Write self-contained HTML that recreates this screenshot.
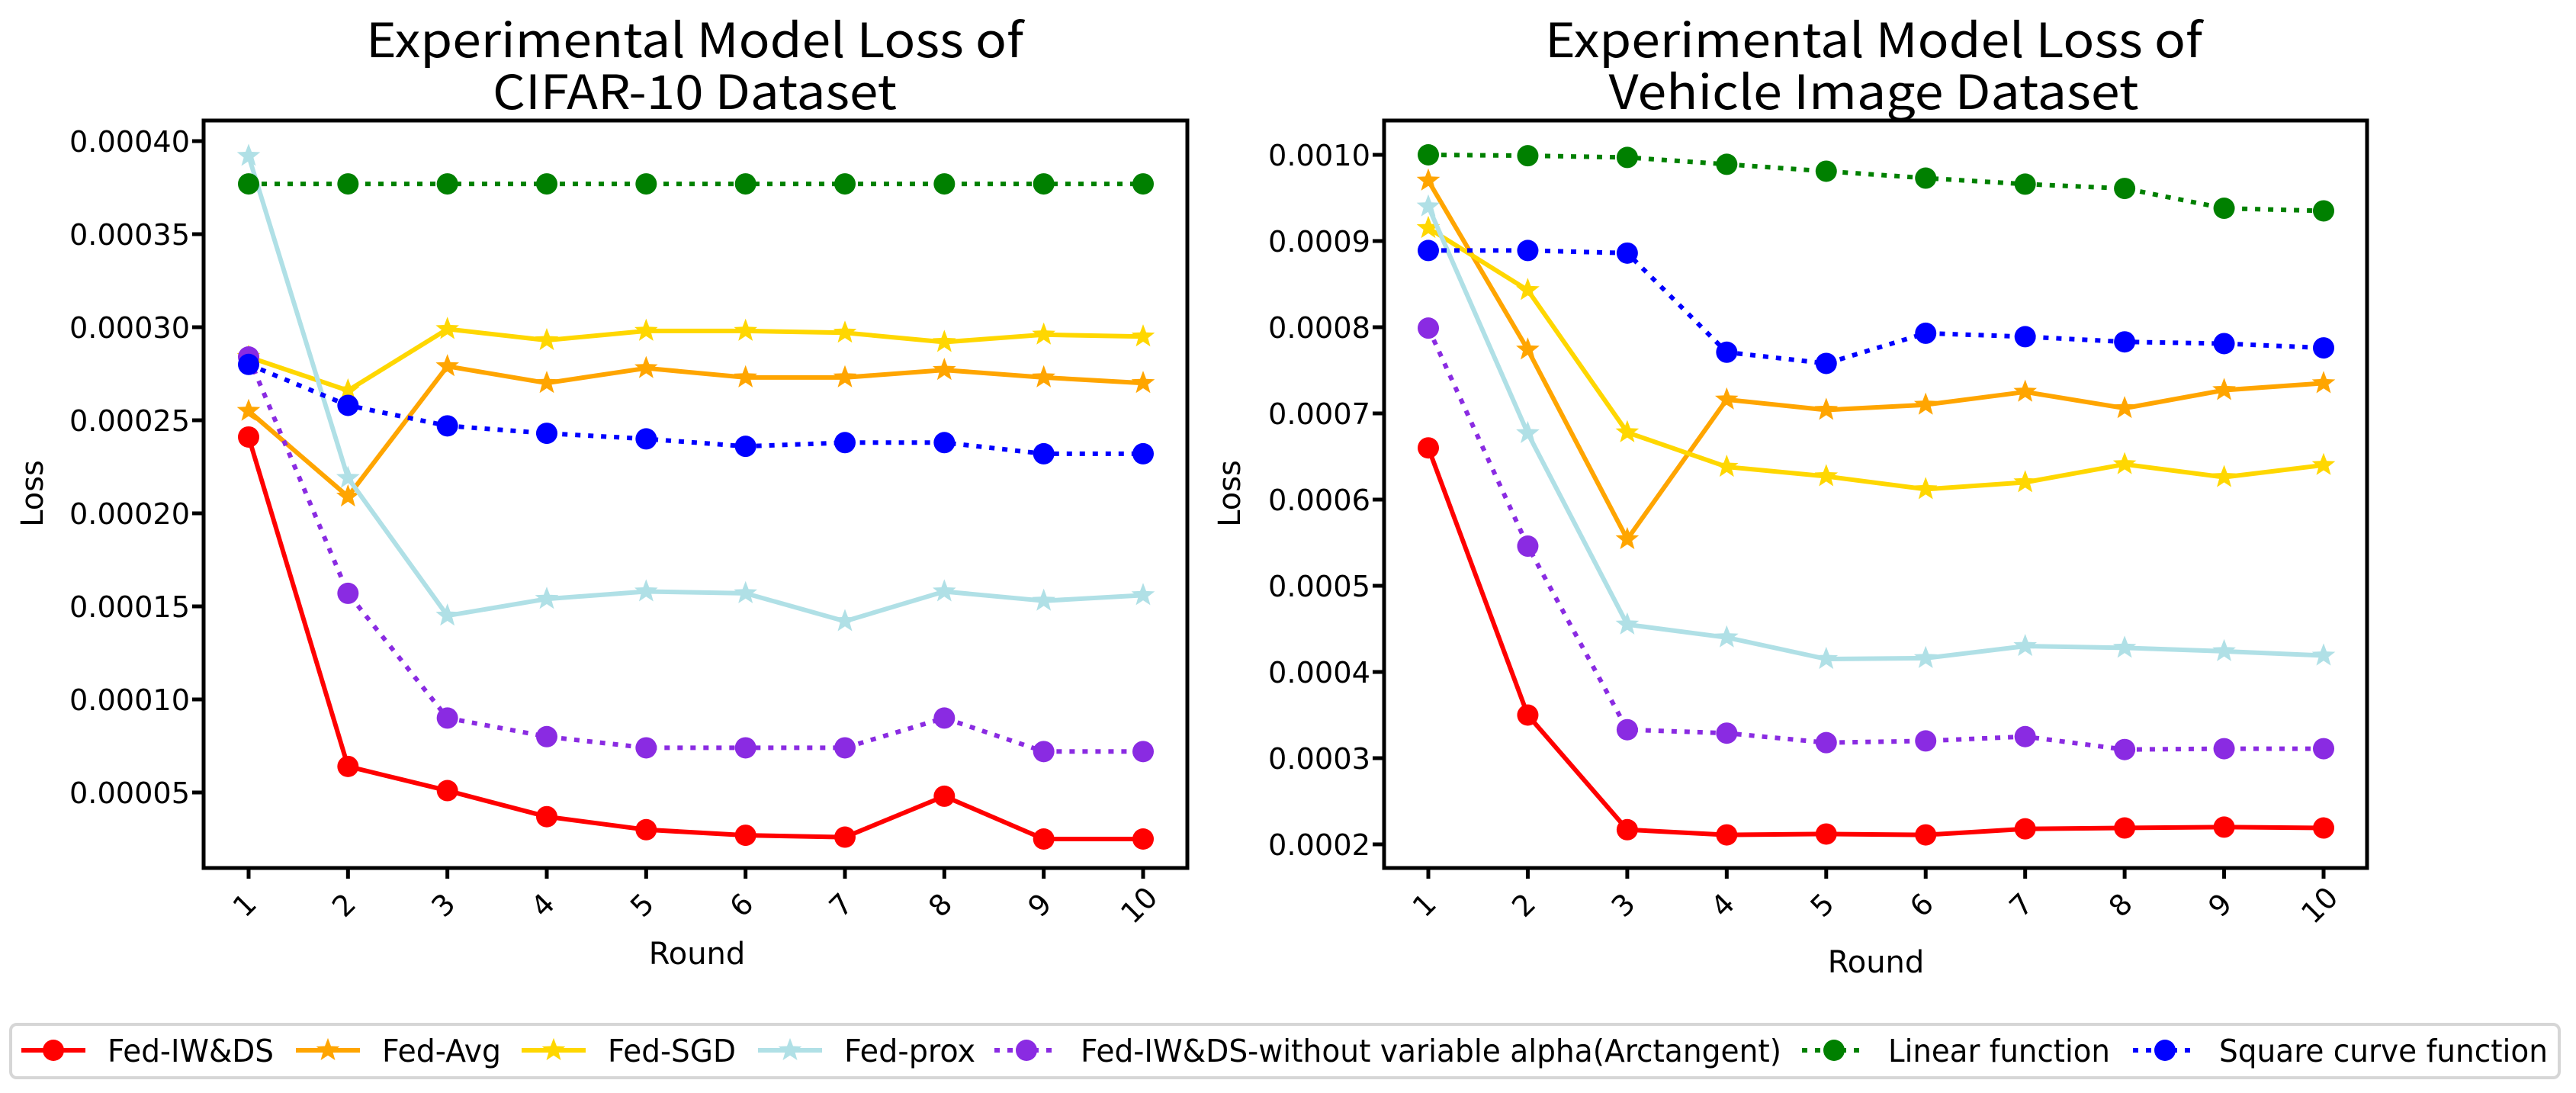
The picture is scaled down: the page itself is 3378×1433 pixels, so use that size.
<!DOCTYPE html>
<html><head><meta charset="utf-8"><style>
html,body{margin:0;padding:0;background:#fff;}
svg{display:block;}
text{font-family:"DejaVu Sans","Liberation Sans",sans-serif;}
.title{font-family:"WenQuanYi Zen Hei","Noto Sans CJK SC",sans-serif;font-size:62px;}
</style></head><body>
<svg id="chart" xmlns="http://www.w3.org/2000/svg" width="3378" height="1433" viewBox="0 0 3378 1433"></svg>
<script>
const rounds = [1,2,3,4,5,6,7,8,9,10];
const seriesNames = ["Fed-IW&DS","Fed-Avg","Fed-SGD","Fed-prox","Fed-IW&DS-without variable alpha(Arctangent)","Linear function","Square curve function"];
// CIFAR-10
const cifarIWDS = [0.000241,0.000064,0.000051,0.000037,0.000030,0.000027,0.000026,0.000048,0.000025,0.000025];
const cifarAvg = [0.000255,0.000209,0.000279,0.000270,0.000278,0.000273,0.000273,0.000277,0.000273,0.000270];
const cifarSGD = [0.000284,0.000266,0.000299,0.000293,0.000298,0.000298,0.000297,0.000292,0.000296,0.000295];
const cifarProx = [0.000392,0.000219,0.000145,0.000154,0.000158,0.000157,0.000142,0.000158,0.000153,0.000156];
const cifarArctan = [0.000284,0.000157,0.000090,0.000080,0.000074,0.000074,0.000074,0.000090,0.000072,0.000072];
const cifarLinear = [0.000377,0.000377,0.000377,0.000377,0.000377,0.000377,0.000377,0.000377,0.000377,0.000377];
const cifarSquare = [0.000280,0.000258,0.000247,0.000243,0.000240,0.000236,0.000238,0.000238,0.000232,0.000232];
const cifarTicks = [0.00005,0.00010,0.00015,0.00020,0.00025,0.00030,0.00035,0.00040];
const cifarTickLabels = ["0.00005","0.00010","0.00015","0.00020","0.00025","0.00030","0.00035","0.00040"];
// Vehicle
const vehIWDS = [0.000660,0.000350,0.000217,0.000211,0.000212,0.000211,0.000218,0.000219,0.000220,0.000219];
const vehAvg = [0.000970,0.000774,0.000554,0.000716,0.000704,0.000710,0.000725,0.000706,0.000727,0.000735];
const vehSGD = [0.000915,0.000843,0.000678,0.000638,0.000627,0.000612,0.000620,0.000641,0.000626,0.000640];
const vehProx = [0.000940,0.000677,0.000455,0.000440,0.000415,0.000416,0.000430,0.000428,0.000424,0.000419];
const vehArctan = [0.000799,0.000546,0.000333,0.000329,0.000318,0.000320,0.000325,0.000310,0.000311,0.000311];
const vehLinear = [0.001000,0.000999,0.000997,0.000989,0.000981,0.000973,0.000966,0.000961,0.000938,0.000935];
const vehSquare = [0.000889,0.000889,0.000886,0.000771,0.000758,0.000793,0.000789,0.000783,0.000781,0.000776];
const vehTicks = [0.0002,0.0003,0.0004,0.0005,0.0006,0.0007,0.0008,0.0009,0.0010];
const vehTickLabels = ["0.0002","0.0003","0.0004","0.0005","0.0006","0.0007","0.0008","0.0009","0.0010"];

const NS="http://www.w3.org/2000/svg";
const svg=document.getElementById('chart');
function mk(tag,attrs,parent){const e=document.createElementNS(NS,tag);for(const k in attrs)e.setAttribute(k,attrs[k]);(parent||svg).appendChild(e);return e;}
const styles=[
 {c:"#ff0000",m:"o",d:null},{c:"#ffa500",m:"*",d:null},{c:"#ffd700",m:"*",d:null},
 {c:"#b0e0e6",m:"*",d:null},{c:"#8a2be2",m:"o",d:"7,10"},{c:"#008000",m:"o",d:"7,10"},{c:"#0000ff",m:"o",d:"7,10"}];
const slugs=["fed-iwds","fed-avg","fed-sgd","fed-prox","fed-iwds-arctangent","linear-function","square-curve-function"];
function starPath(cx,cy,R){let r=R*0.42,p="";for(let i=0;i<10;i++){const a=-Math.PI/2+i*Math.PI/5;const rr=i%2?r:R;p+=(i?"L":"M")+(cx+rr*Math.cos(a)).toFixed(1)+","+(cy+rr*Math.sin(a)).toFixed(1);}return p+"Z";}
function marker(g,m,x,y,c,size){
 let e;
 if(m==="o"){e=mk('circle',{cx:x,cy:y,r:size||14,fill:c},g);}
 else{e=mk('path',{d:starPath(x,y,(size||14)*1.15),fill:c},g);}
 return e;
}
function chart(cfg){
 const g=mk('g',{});
 
 
 const xs=i=>cfg.x1+(i-1)*(cfg.x10-cfg.x1)/9;
 const ys=v=>cfg.yA+(v-cfg.vA)*(cfg.yB-cfg.yA)/(cfg.vB-cfg.vA);
 // title
 cfg.title.forEach((t,i)=>{const e=mk('text',{x:cfg.tx,y:cfg.ty+i*68,'text-anchor':'middle',class:'title',textLength:cfg.tl[i],lengthAdjust:'spacingAndGlyphs'},g);e.textContent=t;
  });
 // y ticks
 cfg.ticks.forEach((v,i)=>{const y=ys(v);mk('line',{x1:cfg.L-15,x2:cfg.L,y1:y,y2:y,stroke:'#000','stroke-width':5},g);
  const t=mk('text',{x:cfg.L-18,y:y+14,'text-anchor':'end','font-size':38,textLength:cfg.ytl,lengthAdjust:'spacingAndGlyphs'},g);t.textContent=cfg.tickLabels[i];
  });
 // x ticks
 rounds.forEach(r=>{const x=xs(r);mk('line',{x1:x,x2:x,y1:cfg.B,y2:cfg.B+14,stroke:'#000','stroke-width':5},g);
  const t=mk('text',{x:0,y:0,'text-anchor':'middle','font-size':38,transform:`translate(${x+4},${cfg.B+58}) rotate(-45)`},g);t.textContent=r;
  });
 let t=mk('text',{x:cfg.rx,y:cfg.ry,'text-anchor':'middle','font-size':40},g);t.textContent='Round';
 
 t=mk('text',{x:0,y:0,'text-anchor':'middle','font-size':40,transform:`translate(${cfg.lx},${cfg.ly}) rotate(-90)`},g);t.textContent='Loss';
 
 // series
 cfg.series.forEach((arr,si)=>{const st=styles[si];const sg=mk('g',{},g);
  
  const pts=arr.map((v,i)=>xs(rounds[i]).toFixed(1)+','+ys(v).toFixed(1)).join(' ');
  const pl=mk('polyline',{points:pts,fill:'none',stroke:st.c,'stroke-width':6,'stroke-linejoin':'round'},sg);
  if(st.d)pl.setAttribute('stroke-dasharray',st.d);
  arr.forEach((v,i)=>{const m=marker(sg,st.m,xs(rounds[i]),ys(v),st.c);
   });
 });
 const fr=mk('rect',{x:cfg.L,y:cfg.T,width:cfg.R-cfg.L,height:cfg.B-cfg.T,fill:'none',stroke:'#000','stroke-width':5},g);
 
}
chart({name:'cifar-chart',L:267,R:1557,T:158,B:1138,x1:326,x10:1499,vA:0.0004,yA:185,vB:0.00035,yB:307,
 ticks:cifarTicks,tickLabels:cifarTickLabels,ytl:158,series:[cifarIWDS,cifarAvg,cifarSGD,cifarProx,cifarArctan,cifarLinear,cifarSquare],
 title:["Experimental Model Loss of","CIFAR-10 Dataset"],tl:[862,530],tx:911,ty:75,rx:914,ry:1264,lx:56,ly:647});
chart({name:'vehicle-chart',L:1815,R:3104,T:158,B:1138,x1:1873,x10:3047,vA:0.0010,yA:203,vB:0.0009,yB:316,
 ticks:vehTicks,tickLabels:vehTickLabels,ytl:134,series:[vehIWDS,vehAvg,vehSGD,vehProx,vehArctan,vehLinear,vehSquare],
 title:["Experimental Model Loss of","Vehicle Image Dataset"],tl:[862,695],tx:2457,ty:75,rx:2460,ry:1275,lx:1626,ly:647});
// legend
const lg=mk('g',{});


mk('rect',{x:14,y:1343,width:3342,height:70,rx:8,fill:'#fff',stroke:'#d6d6d6','stroke-width':4},lg);
const legX=[141,501,797,1107,1417,2476,2910];
const legW=[218,156,168,172,919,291,431];
seriesNames.forEach((n,i)=>{const st=styles[i];const eg=mk('g',{},lg);
 
 const x0=legX[i]-113;const l=mk('line',{x1:x0,x2:x0+84,y1:1377,y2:1377,stroke:st.c,'stroke-width':6},eg);
 if(st.d)l.setAttribute('stroke-dasharray',st.d);
 marker(eg,st.m,x0+42,1377,st.c);
 const t=mk('text',{x:legX[i],y:1392,'font-size':41,textLength:legW[i],lengthAdjust:'spacingAndGlyphs'},eg);t.textContent=n;
});
</script>
</body></html>
